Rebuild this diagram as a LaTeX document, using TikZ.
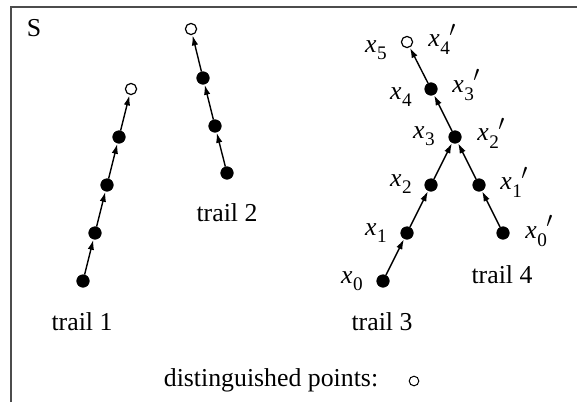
\documentclass[tikz,border=0pt]{standalone}
\usepackage{fontspec}
\setmainfont{Liberation Serif}
\usetikzlibrary{arrows.meta}
\newcommand{\subd}[1]{\raisebox{-0.28em}{\fontsize{9.6pt}{10pt}\selectfont #1}}
\newcommand{\xs}[1]{\textit{x}\kern0.02em\subd{#1}}
\newcommand{\xp}[1]{\textit{x}\kern0.02em\subd{#1}\kern-0.02em\raisebox{0.42em}{\fontsize{10.5pt}{10pt}\selectfont$\prime$}}
\begin{document}
\begin{tikzpicture}[x=0.5pt,y=-0.5pt,
  fdot/.style={circle,fill=black,draw=black,inner sep=0pt,minimum size=6.2pt},
  odot/.style={circle,fill=white,draw=black,line width=0.6pt,inner sep=0pt,minimum size=5.6pt},
  ldot/.style={circle,fill=white,draw=black,line width=0.5pt,inner sep=0pt,minimum size=4.8pt},
  lbl/.style={font=\fontsize{12.9pt}{14pt}\selectfont,inner sep=0pt},
  edge/.style={line width=0.7pt,-{Latex[length=5pt,width=3.2pt]},shorten >=0.2pt},
  frame/.style={line width=1.1pt,draw=black!70}]
\useasboundingbox (0,0) rectangle (577,402);
% frame
\coordinate (fa) at (11,402);
\coordinate (fb) at (11,7);
\coordinate (fc) at (577,7);
\draw[frame] (fa) -- (fb) -- (fc);
\node[lbl] (S) at (34,28) {S};
% trail 1
\node[fdot] (t1a) at (83,281) {};
\node[fdot] (t1b) at (95,233) {};
\node[fdot] (t1c) at (107,185) {};
\node[fdot] (t1d) at (119,137) {};
\node[odot] (t1e) at (131,89) {};
\draw[edge] (t1a) -- (t1b);
\draw[edge] (t1b) -- (t1c);
\draw[edge] (t1c) -- (t1d);
\draw[edge] (t1d) -- (t1e);
\node[lbl] (l1) at (82,322) {trail 1};
% trail 2
\node[fdot] (t2a) at (227,173) {};
\node[fdot] (t2b) at (215,126) {};
\node[fdot] (t2c) at (203,78) {};
\node[odot] (t2d) at (191,29) {};
\draw[edge] (t2a) -- (t2b);
\draw[edge] (t2b) -- (t2c);
\draw[edge] (t2c) -- (t2d);
\node[lbl] (l2) at (227,213) {trail 2};
% trail 3
\node[fdot] (a0) at (383,281) {};
\node[fdot] (a1) at (407,233) {};
\node[fdot] (a2) at (431,185) {};
\node[fdot] (a3) at (455,137) {};
\node[fdot] (a4) at (431,89) {};
\node[odot] (a5) at (407,42) {};
\draw[edge] (a0) -- (a1);
\draw[edge] (a1) -- (a2);
\draw[edge] (a2) -- (a3);
\draw[edge] (a3) -- (a4);
\draw[edge] (a4) -- (a5);
% trail 4
\node[fdot] (b0) at (503,233) {};
\node[fdot] (b1) at (479,185) {};
\draw[edge] (b0) -- (b1);
\draw[edge] (b1) -- (a3);
% labels left
\node[lbl,anchor=east] (x0) at (363,281) {\xs{0}};
\node[lbl,anchor=east] (x1) at (387,233) {\xs{1}};
\node[lbl,anchor=east] (x2) at (412,184) {\xs{2}};
\node[lbl,anchor=east] (x3) at (435,136) {\xs{3}};
\node[lbl,anchor=east] (x4) at (412,97) {\xs{4}};
\node[lbl,anchor=east] (x5) at (387,50) {\xs{5}};
% labels right
\node[lbl,anchor=west] (y4) at (428,39) {\xp{4}};
\node[lbl,anchor=west] (y3) at (452,85) {\xp{3}};
\node[lbl,anchor=west] (y2) at (477,133) {\xp{2}};
\node[lbl,anchor=west] (y1) at (500,182) {\xp{1}};
\node[lbl,anchor=west] (y0) at (525,231) {\xp{0}};
\node[lbl] (l3) at (382,322) {trail 3};
\node[lbl] (l4) at (502,275) {trail 4};
% legend
\node[lbl] (leg) at (271,380) {distinguished points:};
\node[ldot] (legc) at (414,381) {};
\end{tikzpicture}
\end{document}
